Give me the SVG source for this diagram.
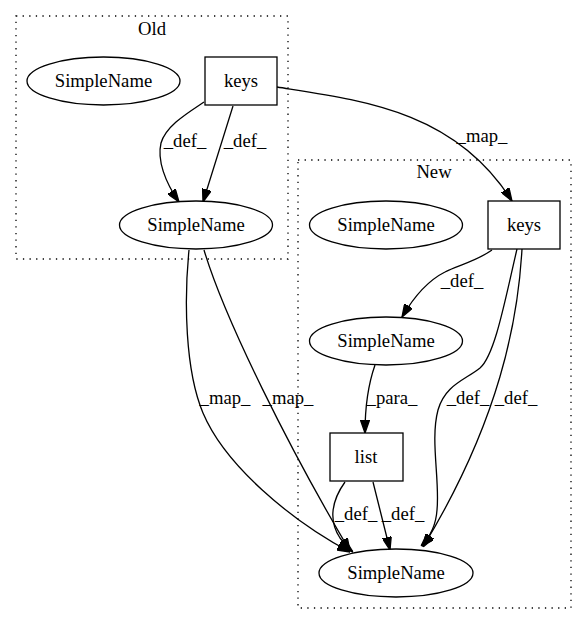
<svg xmlns="http://www.w3.org/2000/svg" width="587" height="624" viewBox="0 0 587 624">
<style>
.cl{fill:none;stroke:#000;stroke-width:1.3;stroke-dasharray:1.3,5.3}
.n{fill:#fff;stroke:#000;stroke-width:1.3}
.e{fill:none;stroke:#000;stroke-width:1.3}
.t{font-family:'Liberation Serif',serif;font-size:18.67px;font-weight:400;text-anchor:middle;fill:#000}
</style>
<defs>
<marker id="ah" viewBox="0 0 10 7" refX="10" refY="3.5" markerWidth="13" markerHeight="9.3" markerUnits="userSpaceOnUse" orient="auto">
<path d="M0,0 L10,3.5 L0,7 Z" fill="#000" stroke="#000" stroke-width="1"/>
</marker>
</defs>
<rect width="587" height="624" fill="#fff"/>
<g font-family="Liberation Serif, serif" font-size="18.67" font-weight="400" text-anchor="middle">
<g id="cluster_old">
<rect class="cl" x="16" y="16" width="272" height="243"/>
<text class="t" x="152" y="35">Old</text>
</g>
<g id="cluster_new">
<rect class="cl" x="298" y="160" width="273" height="448"/>
<text class="t" x="434" y="178">New</text>
</g>
<g id="edges">
<path class="e" marker-end="url(#ah)" d="M204,102 C186,114 166,126 161,143 C157,160 165,182 179,202"/>
<text class="t" x="185" y="147">_def_</text>
<path class="e" marker-end="url(#ah)" d="M233,106 L203,202"/>
<text class="t" x="245" y="147">_def_</text>
<path class="e" marker-end="url(#ah)" d="M277,87 C360,100 455,110 512,201"/>
<text class="t" x="482" y="142">_map_</text>
<path class="e" marker-end="url(#ah)" d="M189,250 C184,300 185,370 203,413 C225,465 290,520 350,552"/>
<text class="t" x="225" y="404">_map_</text>
<path class="e" marker-end="url(#ah)" d="M204,250 C225,320 290,450 350,551"/>
<text class="t" x="288" y="404">_map_</text>
<path class="e" marker-end="url(#ah)" d="M492,250 C475,262 458,265 445,272 C425,282 412,300 402,317"/>
<text class="t" x="462" y="287">_def_</text>
<path class="e" marker-end="url(#ah)" d="M517,249 C505,300 495,355 480,368 C465,380 445,385 438,410 C430,440 440,480 437,510 C436,525 430,537 421,546"/>
<text class="t" x="468" y="404">_def_</text>
<path class="e" marker-end="url(#ah)" d="M522,249 C518,320 500,420 423,547"/>
<text class="t" x="516" y="404">_def_</text>
<path class="e" marker-end="url(#ah)" d="M375,365 C368,385 365,405 365,433"/>
<text class="t" x="392" y="404">_para_</text>
<path class="e" marker-end="url(#ah)" d="M345,482 C332,500 328,520 340,538 C344,543 348,548 353,552"/>
<text class="t" x="356" y="520">_def_</text>
<path class="e" marker-end="url(#ah)" d="M373,482 L390,550"/>
<text class="t" x="403" y="520">_def_</text>
</g>
<g id="old_simplename1">
<ellipse class="n" cx="103.5" cy="81" rx="76.5" ry="24"/>
<text class="t" x="103.5" y="87">SimpleName</text>
</g>
<g id="old_keys">
<rect class="n" x="205" y="57" width="72" height="48"/>
<text class="t" x="241" y="87">keys</text>
</g>
<g id="old_simplename2">
<ellipse class="n" cx="196" cy="225" rx="76.5" ry="24"/>
<text class="t" x="196" y="231">SimpleName</text>
</g>
<g id="new_simplename1">
<ellipse class="n" cx="386" cy="225" rx="76.5" ry="24"/>
<text class="t" x="386" y="231">SimpleName</text>
</g>
<g id="new_keys">
<rect class="n" x="488" y="201" width="72" height="48"/>
<text class="t" x="524" y="231">keys</text>
</g>
<g id="new_simplename2">
<ellipse class="n" cx="386" cy="341" rx="76.5" ry="24"/>
<text class="t" x="386" y="347">SimpleName</text>
</g>
<g id="new_list">
<rect class="n" x="330" y="433" width="73" height="48"/>
<text class="t" x="366" y="463">list</text>
</g>
<g id="new_simplename3">
<ellipse class="n" cx="396" cy="573" rx="77" ry="24"/>
<text class="t" x="396" y="579">SimpleName</text>
</g>
</g>
</svg>
